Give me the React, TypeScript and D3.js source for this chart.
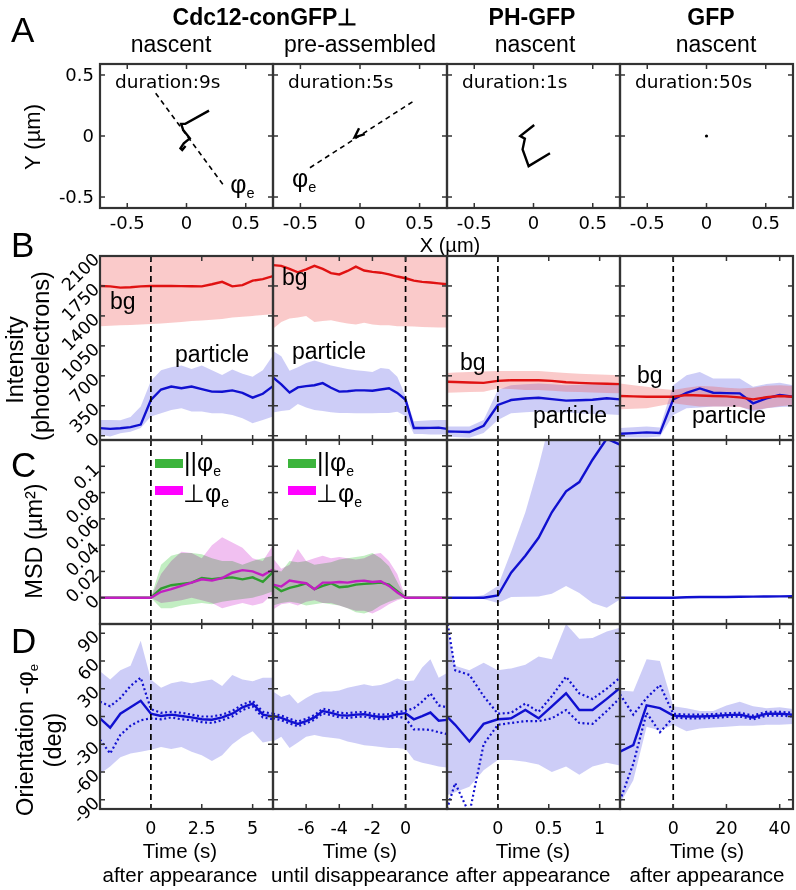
import React from "react";
import * as d3 from "d3";

// ---------------- data ----------------
const headers = ["Cdc12-conGFP⊥", "PH-GFP", "GFP"];
const subHeaders = ["nascent", "pre-assembled", "nascent", "nascent"];
const durations = ["duration:9s", "duration:5s", "duration:1s", "duration:50s"];
const timeCaptions = ["after appearance", "until disappearance", "after appearance", "after appearance"];

// Row A: trajectories (µm)
const trajX = [
  [0.19, -0.01, -0.045, -0.028, 0.028, -0.023, -0.051, -0.036, -0.008],
  [-0.008, -0.045, 0.04],
  [0.006, -0.112, -0.073, -0.092, -0.041, 0.139],
  [0],
];
const trajY = [
  [0.208, 0.099, 0.099, 0.049, -0.019, -0.06, -0.101, -0.115, -0.082],
  [0.063, -0.011, 0.016],
  [0.09, 0, -0.022, -0.109, -0.247, -0.142],
  [0],
];
const dirX = [[-0.26, 0.31], [-0.42, 0.44]];
const dirY = [[0.35, -0.4], [-0.26, 0.28]];
const phiPosX = [0.37, -0.57];
const phiPosY = [-0.47, -0.42];
const aTicks = [-0.5, 0, 0.5];
const aTickLabels = ["-0.5", "0", "0.5"];

// time axes
const xDomains = [[-2.5, 6], [-8, 2.5], [-0.5, 1.2], [-20, 45]];
const xTickVals = [[0, 2.5, 5], [-6, -4, -2, 0], [0, 0.5, 1], [0, 20, 40]];
const xTickLabels = [["0", "2.5", "5"], ["-6", "-4", "-2", "0"], ["0", "0.5", "1"], ["0", "20", "40"]];

const t1 = [-2.5, -2, -1.5, -1, -0.5, 0, 0.5, 1, 1.5, 2, 2.5, 3, 3.5, 4, 4.5, 5, 5.5, 6];
const t2 = [-8, -7.5, -7, -6.5, -6, -5.5, -5, -4.5, -4, -3.5, -3, -2.5, -2, -1.5, -1, -0.5, 0, 0.5, 1, 1.5, 2, 2.5];
const t3 = [-0.5, -0.42, -0.28, -0.14, 0, 0.13, 0.27, 0.4, 0.53, 0.67, 0.8, 0.93, 1.07, 1.2];
const t4 = [-20, -15, -10, -5, 0, 5, 10, 15, 20, 25, 30, 35, 40, 45];

// Row B: intensity (photoelectrons)
const bPart1 = [89, 80, 88, 100, 130, 417, 540, 575, 555, 575, 545, 515, 514, 530, 500, 445, 490, 580];
const bPartHi1 = [185, 185, 180, 220, 340, 640, 765, 800, 820, 780, 820, 765, 710, 775, 725, 690, 765, 940];
const bPartLo1 = [12, -8, 30, 45, 90, 224, 263, 300, 320, 282, 282, 263, 263, 243, 205, 147, 185, 224];
const bBg1 = [1750, 1745, 1730, 1735, 1745, 1750, 1750, 1750, 1748, 1746, 1745, 1770, 1798, 1745, 1760, 1812, 1830, 1866];
const bBgHi1 = [2400, 2400, 2400, 2400, 2400, 2400, 2400, 2400, 2400, 2400, 2400, 2400, 2400, 2400, 2400, 2400, 2400, 2400];
const bBgLo1 = [1280, 1285, 1290, 1295, 1300, 1305, 1310, 1320, 1330, 1340, 1345, 1355, 1365, 1380, 1390, 1400, 1410, 1420];

const bPart2 = [680, 600, 505, 565, 580, 590, 615, 560, 515, 520, 530, 530, 525, 540, 555, 500, 420, 90, 90, 92, 95, 80];
const bPartHi2 = [990, 930, 760, 800, 850, 880, 850, 820, 800, 780, 765, 755, 745, 790, 780, 690, 460, 170, 175, 180, 185, 185];
const bPartLo2 = [270, 290, 300, 370, 330, 300, 290, 275, 265, 265, 262, 262, 262, 265, 265, 280, 230, 20, 20, 15, 15, 15];
const bBg2 = [1993, 1984, 1950, 1910, 1945, 1985, 1950, 1900, 1885, 1925, 1975, 1930, 1915, 1905, 1885, 1860, 1840, 1812, 1798, 1790, 1780, 1770];
const bBgHi2 = [2400, 2400, 2400, 2400, 2400, 2400, 2400, 2400, 2400, 2400, 2400, 2400, 2400, 2400, 2400, 2400, 2400, 2400, 2400, 2400, 2400, 2400];
const bBgLo2 = [1250, 1330, 1370, 1380, 1400, 1330, 1340, 1350, 1330, 1310, 1300, 1320, 1300, 1290, 1290, 1280, 1280, 1275, 1270, 1268, 1265, 1265];

const bPart3 = [50, 48, 43, 116, 359, 417, 435, 444, 428, 410, 415, 420, 437, 425];
const bPartHi3 = [108, 108, 108, 185, 533, 591, 600, 610, 600, 591, 595, 600, 600, 591];
const bPartLo3 = [-8, -15, -25, 31, 185, 263, 275, 282, 275, 270, 262, 255, 250, 243];
const bBg3 = [630, 628, 622, 618, 641, 649, 649, 649, 641, 625, 618, 612, 608, 603];
const bBgHi3 = [734, 740, 745, 750, 757, 757, 757, 757, 745, 734, 725, 718, 712, 707];
const bBgLo3 = [502, 505, 510, 514, 553, 545, 535, 533, 525, 514, 510, 505, 500, 495];

const bPart4 = [23, 30, 39, 31, 425, 502, 553, 502, 498, 495, 379, 437, 475, 456];
const bPartHi4 = [89, 100, 108, 95, 591, 707, 746, 668, 668, 668, 572, 603, 618, 591];
const bPartLo4 = [-20, -20, -20, -10, 243, 321, 330, 340, 340, 340, 282, 320, 335, 340];
const bBg4 = [464, 460, 456, 456, 456, 475, 470, 464, 460, 448, 425, 450, 464, 456];
const bBgHi4 = [610, 590, 572, 550, 533, 560, 580, 575, 560, 553, 560, 585, 591, 580];
const bBgLo4 = [309, 315, 321, 350, 379, 360, 340, 340, 340, 335, 301, 320, 345, 360];

const bTicks = [0, 350, 700, 1050, 1400, 1750, 2100];
const bTickLabels = ["0", "350", "700", "1050", "1400", "1750", "2100"];

// Row C: MSD (µm²)
const cPar1 = [0, 0, 0, 0, 0, 0, 0.007, 0.0095, 0.0105, 0.0115, 0.015, 0.014, 0.015, 0.0155, 0.014, 0.0155, 0.012, 0.0195];
const cParHi1 = [0, 0, 0, 0, 0, 0, 0.025, 0.032, 0.034, 0.034, 0.033, 0.03, 0.028, 0.028, 0.025, 0.028, 0.03, 0.032];
const cParLo1 = [0, 0, 0, 0, 0, 0, -0.008, -0.008, -0.006, -0.005, -0.004, -0.005, -0.003, -0.002, -0.001, 0, 0.002, 0.005];
const cPerp1 = [0, 0, 0, 0, 0, 0, 0.0045, 0.0065, 0.009, 0.0115, 0.014, 0.013, 0.015, 0.019, 0.021, 0.02, 0.017, 0.0215];
const cPerpHi1 = [0, 0, 0, 0, 0, 0, 0.018, 0.028, 0.035, 0.034, 0.03, 0.04, 0.046, 0.042, 0.038, 0.03, 0.028, 0.04];
const cPerpLo1 = [0, 0, 0, 0, 0, 0, -0.004, -0.003, -0.002, 0, -0.002, -0.004, -0.008, -0.006, -0.004, -0.006, -0.004, 0.003];

const cPar2 = [0.0095, 0.005, 0.0075, 0.009, 0.011, 0.0065, 0.009, 0.011, 0.008, 0.0085, 0.01, 0.0105, 0.011, 0.0115, 0.01, 0.005, 0, 0, 0, 0, 0, 0];
const cParHi2 = [0.022, 0.02, 0.028, 0.027, 0.028, 0.025, 0.026, 0.027, 0.029, 0.03, 0.031, 0.032, 0.034, 0.03, 0.024, 0.012, 0, 0, 0, 0, 0, 0];
const cParLo2 = [-0.006, -0.004, -0.003, -0.004, -0.006, -0.005, -0.004, -0.005, -0.006, -0.008, -0.011, -0.012, -0.01, -0.006, -0.003, -0.001, 0, 0, 0, 0, 0, 0];
const cPerp2 = [0.01, 0.0085, 0.013, 0.012, 0.011, 0.0065, 0.0115, 0.0115, 0.012, 0.0115, 0.0125, 0.013, 0.012, 0.0125, 0.009, 0.004, 0, 0, 0, 0, 0, 0];
const cPerpHi2 = [0.03, 0.022, 0.025, 0.037, 0.028, 0.03, 0.032, 0.03, 0.031, 0.03, 0.029, 0.03, 0.033, 0.034, 0.028, 0.018, 0, 0, 0, 0, 0, 0];
const cPerpLo2 = [-0.009, -0.005, -0.004, -0.006, -0.003, -0.002, -0.004, -0.004, -0.006, -0.008, -0.01, -0.01, -0.012, -0.009, -0.005, -0.002, 0, 0, 0, 0, 0, 0];

const cMsd3 = [0, 0, 0, 0, 0.0017, 0.019, 0.032, 0.0456, 0.065, 0.081, 0.088, 0.105, 0.121, 0.1165];
const cMsdHi3 = [0, 0, 0, 0.002, 0.009, 0.035, 0.065, 0.1, 0.14, 0.2, 0.2, 0.2, 0.2, 0.2];
const cMsdLo3 = [0, 0, 0, -0.001, -0.004, 0.0005, 0.0007, 0.001, 0.003, 0.0089, 0.0035, -0.004, -0.0076, -0.0013];

const cMsd4 = [0, 0, 0, 0, 0, 0.0003, 0.0005, 0.0005, 0.0006, 0.0007, 0.0008, 0.0009, 0.001, 0.0011];

const cTicks = [0, 0.02, 0.04, 0.06, 0.08, 0.1];
const cTickLabels = ["0", "0.02", "0.04", "0.06", "0.08", "0.1"];

// Row D: orientation - φe (deg)
const dMean1 = [-2, -12, 3, 10, 17, 3, 0.5, 2, 0.5, -1, -3, -3.5, -1, 3, 10, 14, 2, 0];
const dHi1 = [16, 11, 20, 33, 42, 8, 4, 5, 4, 2, 0, 0, 2, 6, 13, 17, 5, 3];
const dLo1 = [-25, -40, -20, -10, -4, -2, -3, -1, -3, -4, -6, -7, -4, 0, 7, 11, -1, -3];
const dBandHi1 = [49, 40, 50, 55, 82, 40, 31, 36, 38, 36, 38, 40, 33, 45, 40, 38, 42, 42];
const dBandLo1 = [-62, -54, -44, -40, -38, -36, -33, -35, -33, -38, -42, -48, -42, -30, -22, -16, -28, -26];

const dMean2 = [0.5, -1.5, -5, -8, -5, -1, 6, 4, 1.5, 1, 2, 2.5, 0.5, -0.5, 0, 2.5, 3.6, -3, 0.5, 4.3, -4.5, -3.6];
const dHi2 = [3, 1, -2.5, -5.5, -2.5, 1.5, 8.5, 6.5, 4, 3.5, 4.5, 5, 3, 2, 2.5, 5, 6, 9, 16, 25, 12, 10];
const dLo2 = [-2, -4, -7.5, -10.5, -7.5, -3.5, 3.5, 1.5, -1, -1.5, -0.5, 0, -2, -3, -2.5, 0, -2, -14, -14, -14.5, -17, -19];
const dBandHi2 = [27, 21, 24, 14, 20, 25, 27, 27, 28, 31, 33, 35, 33, 34, 37, 41, 38, 39, 53, 62, 42, 47];
const dBandLo2 = [-27, -22, -34, -28, -22, -20, -22, -23, -24, -27, -29, -31, -32, -33, -34, -34, -35, -47, -50, -52, -54, -55];

const dMean3 = [0, -9, -27, -8, -3, -2, 7, -2, 11, 25, 7, 7, 19, 31];
const dHi3 = [105, 50, 45, 22, 3, 4, 14, 5, 22, 43, 25, 19, 30, 42];
const dLo3 = [-100, -72, -105, -30, -9, -7, -5, -5, -2, 7, -7, -8, 6, 20];
const dBandHi3 = [95, 55, 50, 58, 50, 52, 56, 65, 62, 100, 84, 85, 92, 96];
const dBandLo3 = [-85, -82, -76, -58, -47, -47, -49, -52, -60, -54, -63, -54, -50, -53];

const dMean4 = [-38, -31, 12, 9, 1, 0, 0, 0.5, 1.5, 2, -1, 3, 3, 2];
const dHi4 = [24, 2, 20, 34, 3, 2, 2, 2.5, 3.5, 4, 1, 5, 5, 4];
const dLo4 = [-91, -51, 4, -17, -1, -2, -2, -1.5, -0.5, 0, -3, 1, 1, 0];
const dBandHi4 = [28, 27, 62, 60, 11, 9, 6, 6, 12, 16, 11, 9, 10, 8];
const dBandLo4 = [-94, -69, -11, -15, -9, -16, -13, -12, -11, -10, -10, -9, -9, -8];

const dTicks = [-90, -60, -30, 0, 30, 60, 90];
const dTickLabels = ["-90", "-60", "-30", "0", "30", "60", "90"];

// ---------------- layout & style ----------------
const COLS = [
  [100, 273],
  [273, 447],
  [447, 620],
  [620, 793],
];
const ROW_A = [64, 208];
const ROW_B = [256, 440];
const ROW_C = [440, 624];
const ROW_D = [624, 809];

const SANS = "'Liberation Sans', Arial, Helvetica, sans-serif";
const DV = "'DejaVu Sans', sans-serif";
const FRAME = "#333";
const RED = "#e01212";
const BLUE = "#1010d0";
const RED_BAND = "rgb(240,80,80)";
const BLUE_BAND = "rgb(90,90,230)";
const GREEN = "#2f9e2f";
const MAGENTA = "#c21fc2";

type Sc = d3.ScaleLinear<number, number>;

function areaPath(x: Sc, y: Sc, t: number[], lo: number[], hi: number[]) {
  return (
    d3
      .area<number>()
      .x((d) => x(d))
      .y0((_, i) => y(lo[i]))
      .y1((_, i) => y(hi[i]))(t) || ""
  );
}
function linePath(x: Sc, y: Sc, t: number[], v: number[]) {
  return (
    d3
      .line<number>()
      .x((d) => x(d))
      .y((_, i) => y(v[i]))(t) || ""
  );
}

function Ticks({ x0, x1, y0, y1, xt, yt }: { x0: number; x1: number; y0: number; y1: number; xt: number[]; yt: number[] }) {
  const L = 5;
  return (
    <g stroke={FRAME} strokeWidth={1.5}>
      {xt.map((x, i) => (
        <g key={"x" + i}>
          <line x1={x} x2={x} y1={y1} y2={y1 - L} />
          <line x1={x} x2={x} y1={y0} y2={y0 + L} />
        </g>
      ))}
      {yt.map((y, i) => (
        <g key={"y" + i}>
          <line x1={x0} x2={x0 + L} y1={y} y2={y} />
          <line x1={x1} x2={x1 - L} y1={y} y2={y} />
        </g>
      ))}
    </g>
  );
}

function Frame({ x0, x1, y0, y1 }: { x0: number; x1: number; y0: number; y1: number }) {
  return <rect x={x0} y={y0} width={x1 - x0} height={y1 - y0} fill="none" stroke={FRAME} strokeWidth={2.2} />;
}

function Phi({ x, y, size = 24 }: { x: number; y: number; size?: number }) {
  return (
    <text x={x} y={y} fontFamily={SANS} fontSize={size} fill="#000">
      φ
      <tspan fontSize={size * 0.58} dy={size * 0.2}>
        e
      </tspan>
    </text>
  );
}

export default function App() {
  const W = 796;
  const H = 890;

  const xs = COLS.map((c, i) => d3.scaleLinear().domain(xDomains[i]).range(c));
  const times = [t1, t2, t3, t4];

  const yB = d3.scaleLinear().domain([-50, 2100]).range([ROW_B[1], ROW_B[0]]);
  const yC = d3.scaleLinear().domain([-0.02, 0.12]).range([ROW_C[1], ROW_C[0]]);
  const yD = d3.scaleLinear().domain([-100, 100]).range([ROW_D[1], ROW_D[0]]);

  const xA = COLS.map((c) => d3.scaleLinear().domain([-0.73, 0.73]).range(c));
  const yA = d3.scaleLinear().domain([-0.59, 0.59]).range([ROW_A[1], ROW_A[0]]);

  const bSets = [
    { part: bPart1, hi: bPartHi1, lo: bPartLo1, bg: bBg1, bgHi: bBgHi1, bgLo: bBgLo1 },
    { part: bPart2, hi: bPartHi2, lo: bPartLo2, bg: bBg2, bgHi: bBgHi2, bgLo: bBgLo2 },
    { part: bPart3, hi: bPartHi3, lo: bPartLo3, bg: bBg3, bgHi: bBgHi3, bgLo: bBgLo3 },
    { part: bPart4, hi: bPartHi4, lo: bPartLo4, bg: bBg4, bgHi: bBgHi4, bgLo: bBgLo4 },
  ];
  const bLabelPos = [
    { bg: [110, 309], p: [175, 362] },
    { bg: [282, 285], p: [292, 359] },
    { bg: [460, 370], p: [533, 423] },
    { bg: [637, 383], p: [692, 423] },
  ];
  const dSets = [
    { m: dMean1, hi: dHi1, lo: dLo1, bh: dBandHi1, bl: dBandLo1 },
    { m: dMean2, hi: dHi2, lo: dLo2, bh: dBandHi2, bl: dBandLo2 },
    { m: dMean3, hi: dHi3, lo: dLo3, bh: dBandHi3, bl: dBandLo3 },
    { m: dMean4, hi: dHi4, lo: dLo4, bh: dBandHi4, bl: dBandLo4 },
  ];

  const rows: [string, number[]][] = [
    ["B", ROW_B],
    ["C", ROW_C],
    ["D", ROW_D],
  ];

  return (
    <div style={{ position: "absolute", left: 0, top: 0 }}>
      <svg width={W} height={H} viewBox={`0 0 ${W} ${H}`} style={{ display: "block", background: "#fff" }}>
        <defs>
          {COLS.map((c, ci) =>
            [ROW_A, ROW_B, ROW_C, ROW_D].map((r, ri) => (
              <clipPath id={`clip-${ri}-${ci}`} key={`c${ri}${ci}`}>
                <rect x={c[0]} y={r[0]} width={c[1] - c[0]} height={r[1] - r[0]} />
              </clipPath>
            ))
          )}
        </defs>

        {/* Panel letters */}
        {[
          ["A", 42],
          ["B", 257],
          ["C", 477],
          ["D", 653],
        ].map(([l, y]) => (
          <text key={l as string} x={11} y={y as number} fontFamily={SANS} fontSize={35} fill="#000">
            {l}
          </text>
        ))}

        {/* Headers */}
        <text x={265} y={25} textAnchor="middle" fontFamily={SANS} fontWeight="bold" fontSize={23}>
          {headers[0]}
        </text>
        <text x={532} y={25} textAnchor="middle" fontFamily={SANS} fontWeight="bold" fontSize={23}>
          {headers[1]}
        </text>
        <text x={711} y={25} textAnchor="middle" fontFamily={SANS} fontWeight="bold" fontSize={23}>
          {headers[2]}
        </text>
        {[171, 360, 535, 716].map((cx, i) => (
          <text key={"sh" + i} x={cx} y={52} textAnchor="middle" fontFamily={SANS} fontSize={23}>
            {subHeaders[i]}
          </text>
        ))}

        {/* ---------- Row A ---------- */}
        {COLS.map((c, ci) => {
          const x = xA[ci];
          return (
            <g key={"A" + ci}>
              <g clipPath={`url(#clip-0-${ci})`}>
                {ci < 2 && (
                  <line
                    x1={x(dirX[ci][0])}
                    y1={yA(dirY[ci][0])}
                    x2={x(dirX[ci][1])}
                    y2={yA(dirY[ci][1])}
                    stroke="#000"
                    strokeWidth={1.6}
                    strokeDasharray="5 4"
                  />
                )}
                {ci < 3 ? (
                  <path
                    d={
                      d3
                        .line<number>()
                        .x((d) => x(d))
                        .y((_, i) => yA(trajY[ci][i]))(trajX[ci]) || ""
                    }
                    fill="none"
                    stroke="#000"
                    strokeWidth={2.4}
                    strokeLinejoin="miter"
                  />
                ) : (
                  <circle cx={x(trajX[3][0])} cy={yA(trajY[3][0])} r={1.6} fill="#000" />
                )}
              </g>
              {ci < 2 && <Phi x={x(phiPosX[ci])} y={yA(phiPosY[ci])} size={25} />}
              <text x={c[0] + 15} y={88} fontFamily={DV} fontSize={18.5} fill="#000">
                {durations[ci]}
              </text>
              <Ticks x0={c[0]} x1={c[1]} y0={ROW_A[0]} y1={ROW_A[1]} xt={aTicks.map((v) => x(v))} yt={aTicks.map((v) => yA(v))} />
              <Frame x0={c[0]} x1={c[1]} y0={ROW_A[0]} y1={ROW_A[1]} />
              {aTicks.map((v, i) => (
                <text key={i} x={x(v)} y={229} textAnchor="middle" fontFamily={DV} fontSize={18}>
                  {aTickLabels[i]}
                </text>
              ))}
            </g>
          );
        })}
        {aTicks.map((v, i) => (
          <text key={"ay" + i} x={94} y={yA(v)} dy="0.36em" textAnchor="end" fontFamily={DV} fontSize={18}>
            {aTickLabels[i]}
          </text>
        ))}
        <text x={450} y={252} textAnchor="middle" fontFamily={SANS} fontSize={20}>
          X (µm)
        </text>
        <text transform="translate(40,137) rotate(-90)" textAnchor="middle" fontFamily={SANS} fontSize={22}>
          Y (µm)
        </text>

        {/* ---------- Row B ---------- */}
        {COLS.map((c, ci) => {
          const x = xs[ci];
          const t = times[ci];
          const s = bSets[ci];
          return (
            <g key={"B" + ci}>
              <g clipPath={`url(#clip-1-${ci})`}>
                <path d={areaPath(x, yB, t, s.lo, s.hi)} fill={BLUE_BAND} fillOpacity={0.3} />
                <path d={areaPath(x, yB, t, s.bgLo, s.bgHi)} fill={RED_BAND} fillOpacity={0.3} />
                <path d={linePath(x, yB, t, s.part)} fill="none" stroke={BLUE} strokeWidth={2.4} />
                <path d={linePath(x, yB, t, s.bg)} fill="none" stroke={RED} strokeWidth={2.4} />
              </g>
              <text x={bLabelPos[ci].bg[0]} y={bLabelPos[ci].bg[1]} fontFamily={SANS} fontSize={23}>
                bg
              </text>
              <text x={bLabelPos[ci].p[0]} y={bLabelPos[ci].p[1]} fontFamily={SANS} fontSize={23}>
                particle
              </text>
            </g>
          );
        })}

        {/* ---------- Row C ---------- */}
        {COLS.map((c, ci) => {
          const x = xs[ci];
          const t = times[ci];
          return (
            <g key={"C" + ci} clipPath={`url(#clip-2-${ci})`}>
              {ci === 0 && (
                <g>
                  <path d={areaPath(x, yC, t, cParLo1, cParHi1)} fill="#c2eec2" style={{ mixBlendMode: "multiply" }} />
                  <path d={areaPath(x, yC, t, cPerpLo1, cPerpHi1)} fill="#f1c0f1" style={{ mixBlendMode: "multiply" }} />
                  <path d={linePath(x, yC, t, cPar1)} fill="none" stroke={GREEN} strokeWidth={2.4} />
                  <path d={linePath(x, yC, t, cPerp1)} fill="none" stroke={MAGENTA} strokeWidth={2.4} />
                </g>
              )}
              {ci === 1 && (
                <g>
                  <path d={areaPath(x, yC, t, cParLo2, cParHi2)} fill="#c2eec2" style={{ mixBlendMode: "multiply" }} />
                  <path d={areaPath(x, yC, t, cPerpLo2, cPerpHi2)} fill="#f1c0f1" style={{ mixBlendMode: "multiply" }} />
                  <path d={linePath(x, yC, t, cPar2)} fill="none" stroke={GREEN} strokeWidth={2.4} />
                  <path d={linePath(x, yC, t, cPerp2)} fill="none" stroke={MAGENTA} strokeWidth={2.4} />
                </g>
              )}
              {ci === 2 && (
                <g>
                  <path d={areaPath(x, yC, t, cMsdLo3, cMsdHi3)} fill={BLUE_BAND} fillOpacity={0.3} />
                  <path d={linePath(x, yC, t, cMsd3)} fill="none" stroke={BLUE} strokeWidth={2.4} />
                </g>
              )}
              {ci === 3 && <path d={linePath(x, yC, t, cMsd4)} fill="none" stroke={BLUE} strokeWidth={2.4} />}
            </g>
          );
        })}
        {/* legends in C */}
        {[155, 288].map((lx, i) => (
          <g key={"leg" + i}>
            <rect x={lx} y={459} width={28} height={9} fill="#3cb43c" />
            <rect x={lx} y={486} width={28} height={9} fill="#ff00ff" />
            <text x={lx + 29} y={471} fontFamily={SANS} fontSize={25}>
              ||φ
              <tspan fontSize={14} dy={5}>
                e
              </tspan>
            </text>
            <text x={lx + 28} y={502} fontFamily={SANS} fontSize={25}>
              ⊥φ
              <tspan fontSize={14} dy={5}>
                e
              </tspan>
            </text>
          </g>
        ))}

        {/* ---------- Row D ---------- */}
        {COLS.map((c, ci) => {
          const x = xs[ci];
          const t = times[ci];
          const s = dSets[ci];
          return (
            <g key={"D" + ci} clipPath={`url(#clip-3-${ci})`}>
              <path d={areaPath(x, yD, t, s.bl, s.bh)} fill={BLUE_BAND} fillOpacity={0.3} />
              <path d={linePath(x, yD, t, s.hi)} fill="none" stroke={BLUE} strokeWidth={2.2} strokeDasharray="2 2.6" />
              <path d={linePath(x, yD, t, s.lo)} fill="none" stroke={BLUE} strokeWidth={2.2} strokeDasharray="2 2.6" />
              <path d={linePath(x, yD, t, s.m)} fill="none" stroke={BLUE} strokeWidth={2.4} />
            </g>
          );
        })}

        {/* dashed zero lines, ticks and frames for rows B-D */}
        {rows.map(([name, r], ri) => {
          const yScale = ri === 0 ? yB : ri === 1 ? yC : yD;
          const tickVals = ri === 0 ? bTicks : ri === 1 ? cTicks : dTicks;
          return (
            <g key={"fr" + name}>
              {COLS.map((c, ci) => (
                <g key={ci}>
                  <line
                    x1={xs[ci](0)}
                    x2={xs[ci](0)}
                    y1={r[0]}
                    y2={r[1]}
                    stroke="#000"
                    strokeWidth={1.7}
                    strokeDasharray="6 4"
                  />
                  <Ticks
                    x0={c[0]}
                    x1={c[1]}
                    y0={r[0]}
                    y1={r[1]}
                    xt={xTickVals[ci].map((v) => xs[ci](v))}
                    yt={tickVals.map((v) => yScale(v))}
                  />
                  <Frame x0={c[0]} x1={c[1]} y0={r[0]} y1={r[1]} />
                </g>
              ))}
            </g>
          );
        })}

        {/* rotated y tick labels */}
        {bTicks.map((v, i) => (
          <text
            key={"bt" + i}
            transform={`translate(96,${yB(v)}) rotate(-45)`}
            dy="0.36em"
            textAnchor="end"
            fontFamily={DV}
            fontSize={17.5}
          >
            {bTickLabels[i]}
          </text>
        ))}
        {cTicks.map((v, i) => (
          <text
            key={"ct" + i}
            transform={`translate(96,${yC(v)}) rotate(-45)`}
            dy="0.36em"
            textAnchor="end"
            fontFamily={DV}
            fontSize={17.5}
          >
            {cTickLabels[i]}
          </text>
        ))}
        {dTicks.map((v, i) => (
          <text
            key={"dt" + i}
            transform={`translate(96,${yD(v)}) rotate(-45)`}
            dy="0.36em"
            textAnchor="end"
            fontFamily={DV}
            fontSize={17.5}
          >
            {dTickLabels[i]}
          </text>
        ))}

        {/* y axis titles */}
        <text transform="translate(23,360) rotate(-90)" textAnchor="middle" fontFamily={SANS} fontSize={23.5}>
          Intensity
        </text>
        <text transform="translate(49,356) rotate(-90)" textAnchor="middle" fontFamily={SANS} fontSize={23.5}>
          (photoelectrons)
        </text>
        <text transform="translate(42,541) rotate(-90)" textAnchor="middle" fontFamily={SANS} fontSize={23.5}>
          MSD (µm²)
        </text>
        <text transform="translate(33,740) rotate(-90)" textAnchor="middle" fontFamily={SANS} fontSize={23.5}>
          Orientation -φ
          <tspan fontSize={13} dy={5}>
            e
          </tspan>
        </text>
        <text transform="translate(61,740) rotate(-90)" textAnchor="middle" fontFamily={SANS} fontSize={23.5}>
          (deg)
        </text>

        {/* x tick labels & titles under row D */}
        {COLS.map((c, ci) => {
          const cx = [180, 360, 533, 707][ci];
          return (
            <g key={"xl" + ci}>
              {xTickVals[ci].map((v, i) => (
                <text key={i} x={xs[ci](v)} y={834} textAnchor="middle" fontFamily={DV} fontSize={17.5}>
                  {xTickLabels[ci][i]}
                </text>
              ))}
              <text x={cx} y={858} textAnchor="middle" fontFamily={SANS} fontSize={20.5}>
                Time (s)
              </text>
              <text x={cx} y={882} textAnchor="middle" fontFamily={SANS} fontSize={20.5}>
                {timeCaptions[ci]}
              </text>
            </g>
          );
        })}
      </svg>
    </div>
  );
}
